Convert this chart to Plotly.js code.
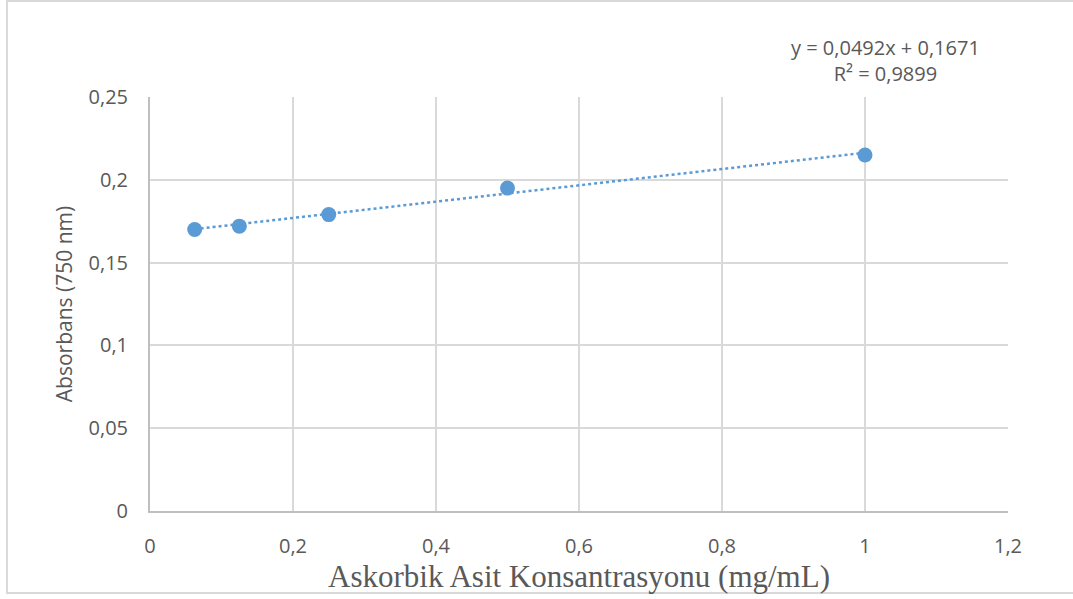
<!DOCTYPE html>
<html>
<head>
<meta charset="utf-8">
<script src="https://cdn.plot.ly/plotly-3.0.1.min.js"></script>
<style>html,body{margin:0;padding:0;background:#fff;}#chart{width:1073px;height:599px;}</style>
</head>
<body>
<div id="chart"></div>
<script>
const concentrations = [0.0625, 0.125, 0.25, 0.5, 1];
const absorbance = [0.170, 0.172, 0.179, 0.195, 0.215];
const xTickVals = [0, 0.2, 0.4, 0.6, 0.8, 1, 1.2];
const yTickVals = [0, 0.05, 0.1, 0.15, 0.2, 0.25];
const xTitle = "Askorbik Asit Konsantrasyonu (mg/mL)";
const yTitle = "Absorbans (750 nm)";
const slopeLabel = "0,0492";
const interceptLabel = "0,1671";
const r2Label = "0,9899";

// least-squares trendline from data
const n = concentrations.length;
const mx = concentrations.reduce((a,b)=>a+b,0)/n;
const my = absorbance.reduce((a,b)=>a+b,0)/n;
let sxy = 0, sxx = 0;
for (let i=0;i<n;i++){ sxy += (concentrations[i]-mx)*(absorbance[i]-my); sxx += (concentrations[i]-mx)**2; }
const slope = sxy/sxx, intercept = my - slope*mx;
const tx = [Math.min(...concentrations), Math.max(...concentrations)];
const ty = tx.map(x => slope*x + intercept);

const blue = "#5b9bd5";
const grey = "#595959";
const data = [
  {x: tx, y: ty, mode: "lines", type: "scatter", line: {color: blue, width: 2.5, dash: "dot"}, hoverinfo: "skip"},
  {x: concentrations, y: absorbance, mode: "markers", type: "scatter", marker: {color: blue, size: 15}}
];
const layout = {
  width: 1073, height: 599,
  margin: {l: 150, r: 65, t: 97, b: 88},
  paper_bgcolor: "#fff", plot_bgcolor: "#fff",
  showlegend: false,
  separators: ", ",
  xaxis: {
    range: [0, 1.2], tickvals: xTickVals, ticktext: xTickVals.map(v => String(v).replace(".", ",")),
    showgrid: true, gridcolor: "#d9d9d9", gridwidth: 2,
    showline: true, linecolor: "#bfbfbf", linewidth: 2,
    zeroline: false, ticks: "", ticklen: 0, ticklabelstandoff: 16,
    tickfont: {family: "Open Sans, sans-serif", size: 20, color: grey},
    title: {text: xTitle, font: {family: "Liberation Serif, serif", size: 31, color: grey}, standoff: 2}
  },
  yaxis: {
    range: [0, 0.25], tickvals: yTickVals, ticktext: yTickVals.map(v => String(v).replace(".", ",")),
    showgrid: true, gridcolor: "#d9d9d9", gridwidth: 2,
    showline: true, linecolor: "#bfbfbf", linewidth: 2,
    zeroline: false, ticks: "", ticklen: 0, ticklabelstandoff: 16,
    tickfont: {family: "Open Sans, sans-serif", size: 20, color: grey},
    title: {text: yTitle, font: {family: "Open Sans, sans-serif", size: 21, color: grey}, standoff: 10}
  },
  annotations: [{
    xref: "x", yref: "paper", x: 1.029, y: 1.087, xanchor: "center", yanchor: "middle",
    text: "y = " + slopeLabel + "x + " + interceptLabel + "<br>R² = " + r2Label,
    showarrow: false, align: "center",
    font: {family: "Open Sans, sans-serif", size: 20, color: grey}
  }],
  shapes: [{
    type: "rect", xref: "paper", yref: "paper",
    x0: -0.1667, x1: 1.08, y0: -0.198, y1: 1.232,
    line: {color: "#d9d9d9", width: 2}, fillcolor: "rgba(0,0,0,0)", layer: "below"
  }]
};
Plotly.newPlot("chart", data, layout, {displayModeBar: false, staticPlot: true});
</script>
</body>
</html>
